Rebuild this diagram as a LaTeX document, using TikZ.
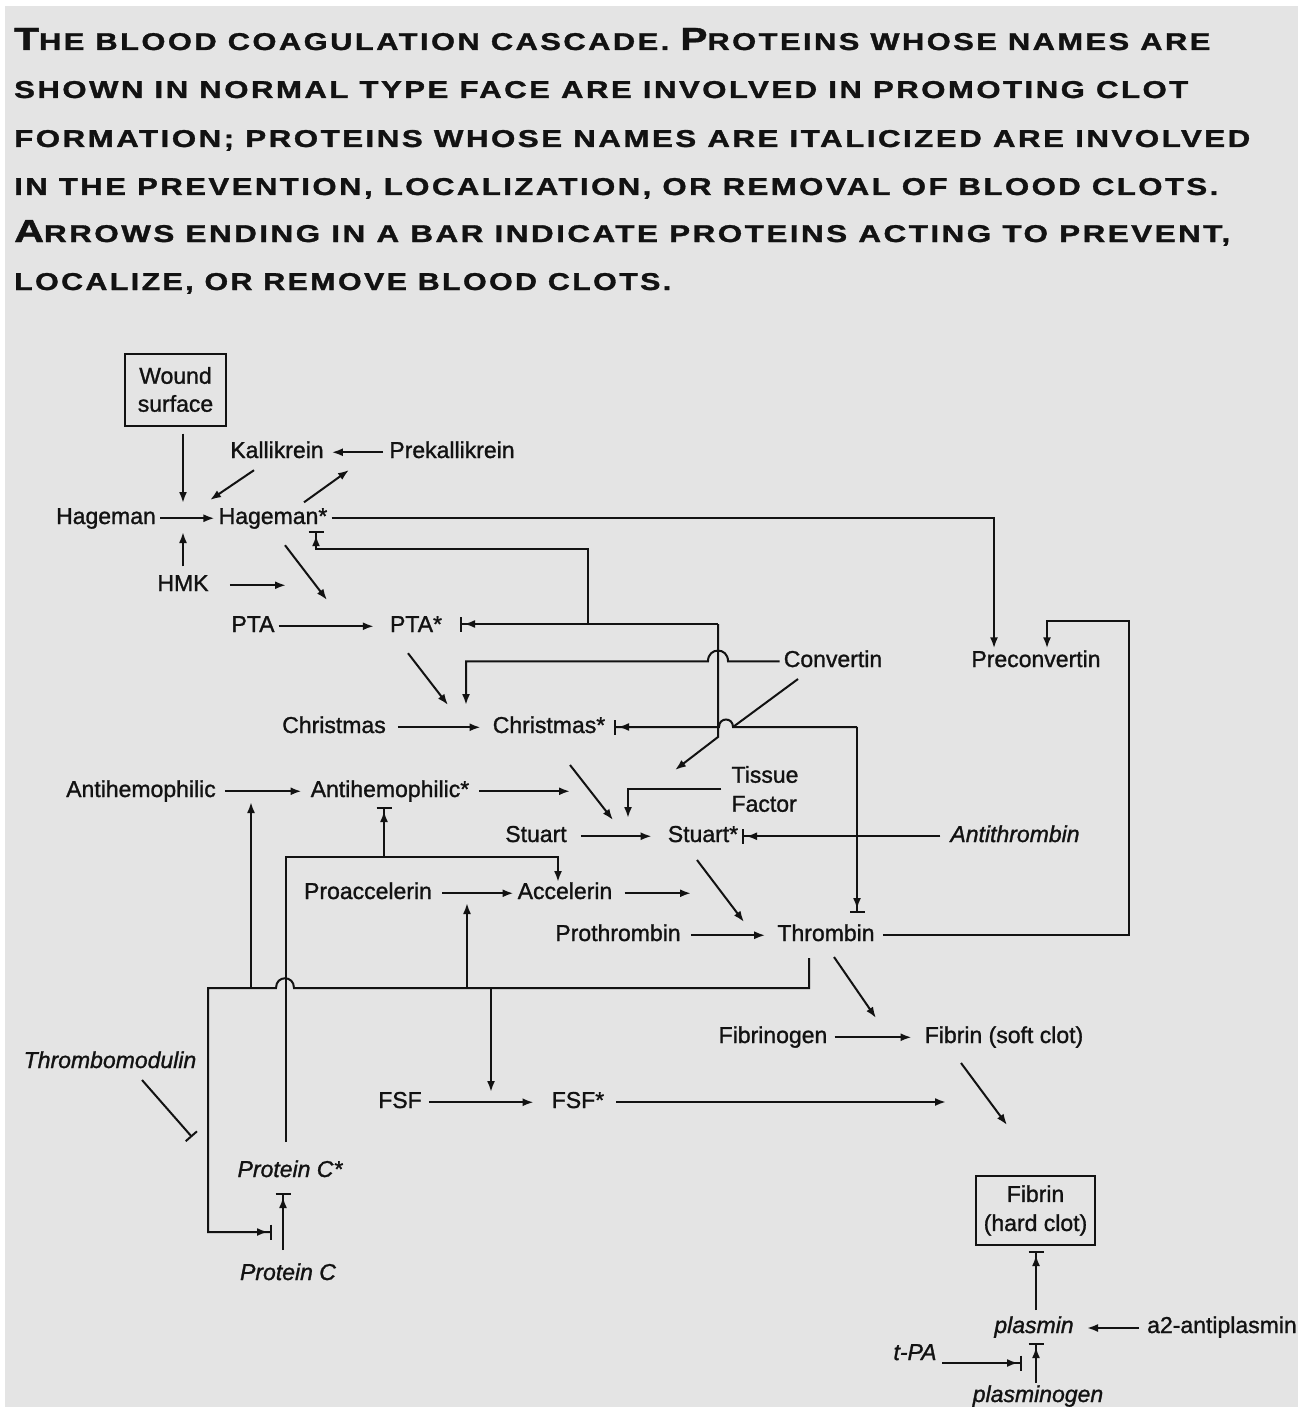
\documentclass[tikz,border=0pt]{standalone}
\usepackage{fontspec}
\usepackage{graphicx}
\setmainfont{Liberation Sans}[FakeBold=1.2]
\newfontfamily\titlefont{Liberation Sans Bold}[LetterSpace=8, FakeBold=1.2]
\usetikzlibrary{arrows.meta}
\definecolor{paper}{RGB}{228,228,228}
\definecolor{ink}{RGB}{18,18,18}
\newcommand\BigC[1]{{\fontsize{29}{29}\selectfont #1}}
\newcommand\TitleLine[3]{\resizebox{#1pt}{#2pt}{\titlefont\fontsize{22}{22}\selectfont #3}}
\tikzset{
  lbl/.style={anchor=base, inner xsep=4pt, inner ysep=2pt, text height=16.5pt, text depth=5pt, text=ink, font=\fontsize{23}{27}\selectfont},
  ilbl/.style={lbl, font=\fontsize{23}{27}\selectfont\itshape},
  boxnode/.style={draw=ink, line width=2pt, align=center, inner sep=0pt, text=ink},
  ln/.style={draw=ink, line width=2pt},
  arr/.style={ln, -{Latex[length=11pt,width=8pt]}},
  inh/.style={ln, -{Latex[length=11pt,width=8pt,sep=2pt]Bar[width=15pt]}},
  tee/.style={ln, -{Bar[width=15pt]}},
  ttl/.style={anchor=base west, inner sep=0pt, text=ink}
}
\begin{document}
\begin{tikzpicture}[x=1pt,y=-1pt]
\fill[white] (0,0) rectangle (1298,1407);
\fill[paper] (5,6) rectangle (1298,1407);
\useasboundingbox (0,0) rectangle (1298,1407);

% title
\node[ttl] (t1) at (14,50) {\TitleLine{1196}{22}{\BigC{T}HE BLOOD COAGULATION CASCADE. \BigC{P}ROTEINS WHOSE NAMES ARE}};
\node[ttl] (t2) at (14,98) {\TitleLine{1174}{17}{SHOWN IN NORMAL TYPE FACE ARE INVOLVED IN PROMOTING CLOT}};
\node[ttl] (t3) at (14,147) {\TitleLine{1236}{17}{FORMATION; PROTEINS WHOSE NAMES ARE ITALICIZED ARE INVOLVED}};
\node[ttl] (t4) at (14,195) {\TitleLine{1204}{17}{IN THE PREVENTION, LOCALIZATION, OR REMOVAL OF BLOOD CLOTS.}};
\node[ttl] (t5) at (14,242) {\TitleLine{1216}{22}{\BigC{A}RROWS ENDING IN A BAR INDICATE PROTEINS ACTING TO PREVENT,}};
\node[ttl] (t6) at (14,290) {\TitleLine{657}{17}{LOCALIZE, OR REMOVE BLOOD CLOTS.}};

% nodes
\node[boxnode, minimum width=101pt, minimum height=72pt, font=\fontsize{23}{28}\selectfont] (wound) at (175.5,389.5) {Wound\\surface};
\node[lbl] (kal) at (277,458) {Kallikrein};
\node[lbl] (prek) at (452,458) {Prekallikrein};
\node[lbl] (hag) at (106,524) {Hageman};
\node[lbl] (hagst) at (273,524) {Hageman*};
\node[lbl] (hmk) at (183,591) {HMK};
\node[lbl] (pta) at (253,632) {PTA};
\node[lbl] (ptast) at (416,632) {PTA*};
\node[lbl] (conv) at (833,667) {Convertin};
\node[lbl] (prec) at (1036,667) {Preconvertin};
\node[lbl] (chr) at (334,733) {Christmas};
\node[lbl] (chrst) at (549,733) {Christmas*};
\node[lbl] (ahf) at (141,797) {Antihemophilic};
\node[lbl] (ahfst) at (390,797) {Antihemophilic*};
\node[align=left, inner sep=4pt, text=ink, font=\fontsize{23}{29}\selectfont] (tf) at (765,789) {Tissue\\Factor};
\node[lbl] (stu) at (536,842) {Stuart};
\node[lbl] (stust) at (703,842) {Stuart*};
\node[ilbl] (anti) at (1015,842) {Antithrombin};
\node[lbl] (proa) at (368,899) {Proaccelerin};
\node[lbl] (acc) at (565,899) {Accelerin};
\node[lbl] (proth) at (618,941) {Prothrombin};
\node[lbl] (thr) at (826,941) {Thrombin};
\node[lbl] (fbg) at (773,1043) {Fibrinogen};
\node[lbl] (fbs) at (1004,1043) {Fibrin (soft clot)};
\node[ilbl] (tm) at (110,1068) {Thrombomodulin};
\node[lbl] (fsf) at (400,1108) {FSF};
\node[lbl] (fsfst) at (578,1108) {FSF*};
\node[ilbl] (pcst) at (290,1177) {Protein C*};
\node[ilbl] (pc) at (288,1280) {Protein C};
\node[boxnode, minimum width=119pt, minimum height=69pt, font=\fontsize{23}{29}\selectfont] (fbh) at (1035.5,1210.5) {Fibrin\\(hard clot)};
\node[ilbl] (plas) at (1034,1333) {plasmin};
\node[lbl, anchor=base west, inner xsep=0pt] (a2) at (1147,1333) {a2-antiplasmin};
\node[ilbl] (tpa) at (915,1360) {t-PA};
\node[ilbl] (plg) at (1038,1402) {plasminogen};

% coordinates
\coordinate (jw) at (183,503);
\coordinate (jh) at (183,532);
\coordinate (jk) at (210,500);
\coordinate (jp) at (349,470);
\coordinate (xc1) at (994,0);
\coordinate (jpta) at (327,600);
\coordinate (jhm) at (286,585);
\coordinate (v1) at (588,624);
\coordinate (v2) at (316,549);
\coordinate (v3) at (718,624);
\coordinate (v4) at (718,737);
\coordinate (jst) at (675,770);
\coordinate (b1) at (460,624);
\coordinate (c1) at (798,679);
\coordinate (c2) at (733,727);
\coordinate (jc) at (466,705);
\coordinate (v5) at (857,727);
\coordinate (b2) at (614,727);
\coordinate (b3) at (857,913);
\coordinate (ja) at (570,791);
\coordinate (jt) at (628,818);
\coordinate (b4) at (742,836);
\coordinate (jac) at (691,893);
\coordinate (jf) at (1129,621);
\coordinate (xc2) at (1047,0);
\coordinate (t0) at (809,958);
\coordinate (bpc) at (272,1232);
\coordinate (pcl) at (286,1142);

% connectors
\draw[arr, shorten <=7pt] (wound.south -| jw) -- (jw);
\draw[arr] (hag) -- (hagst);
\draw[arr, shorten <=6pt] (hmk.north -| jh) -- (jh);
\draw[arr] ([xshift=-23pt,yshift=-5pt]kal.south) -- (jk);
\draw[arr] ([xshift=31pt,yshift=3pt]hagst.north) -- (jp);
\draw[arr, shorten <=2pt, shorten >=4pt] (prek) -- (kal);
\draw[arr] (hagst.east) -| (prec.north -| xc1);
\draw[arr] ([xshift=12pt,yshift=-14pt]hagst.south) -- (jpta);
\draw[arr, shorten <=17pt] (hmk.east) -- (hmk.east -| jhm);
\draw[arr, shorten >=12pt] (pta) -- (ptast);
\draw[inh] (v1) |- (v2) -- (v2 |- hagst.south);
\draw[inh] (v3) -- (b1);
\draw[arr] (v3) -- (v4) -- (jst);
\draw[ln] (c1) -- (c2);
\draw[arr] (conv.west) -- (728,661.25) .. controls (728,647) and (708,647) .. (708,661.25) -| (jc);
\draw[arr] ([xshift=-8pt,yshift=-14pt]ptast.south) -- (448,705);
\draw[arr, shorten <=8pt, shorten >=8pt] (chr) -- (chrst);
\draw[inh] (v5) -- (733,727) .. controls (733,717) and (719,717) .. (719,727) -- (b2);
\draw[inh] (v5) -- (b3);
\draw[arr, shorten <=5pt, shorten >=5pt] (ahf) -- (ahfst);
\draw[arr, shorten <=6pt] (ahfst.east) -- (ahfst.east -| ja);
\draw[arr] (570,765) -- (613,820);
\draw[arr, shorten <=6pt] (tf.west) -| (jt);
\draw[arr, shorten <=10pt, shorten >=12pt] (stu) -- (stust);
\draw[inh, shorten <=6pt] (anti) -- (anti -| b4);
\draw[arr] (697,860) -- (744,922);
\draw[arr, shorten <=6pt] (proa) -- (acc);
\draw[arr, shorten <=8pt] (acc.east) -- (acc.east -| jac);
\draw[arr, shorten <=6pt, shorten >=8pt] (proth) -- (thr);
\draw[arr, shorten <=4pt] (thr.east) -| (jf) -| (prec.north -| xc2);
\draw[inh] (t0) -- (809,988) -- (294,988) .. controls (294,975) and (276,975) .. (276,988) -- (208,988) |- (bpc);
\draw[arr] (251,988) -- (251,802);
\draw[arr] (467,988) -- (467,903);
\draw[arr] (491,988) -- (491,1092);
\draw[arr] (pcl) -- (286,857) -- (558,857) -- (558,882);
\draw[inh] (384,857) -- (384,807);
\draw[tee] (142,1080) -- (192,1137);
\draw[inh] (283,1250) -- (283,1193);
\draw[arr] (834,957) -- (876,1018);
\draw[arr, shorten <=3pt, shorten >=9pt] (fbg) -- (fbs);
\draw[arr, shorten <=3pt, shorten >=14pt] (fsf) -- (fsfst);
\draw[arr] (616,1102) -- (946,1102);
\draw[arr] (961,1063) -- (1007,1125);
\draw[inh] (1036,1310) -- (1036,1251);
\draw[arr] (1139,1328) -- (1087,1328);
\draw[inh] (942,1363) -- (1022,1363);
\draw[inh] (1036,1383) -- (1036,1343);
\end{tikzpicture}
\end{document}
